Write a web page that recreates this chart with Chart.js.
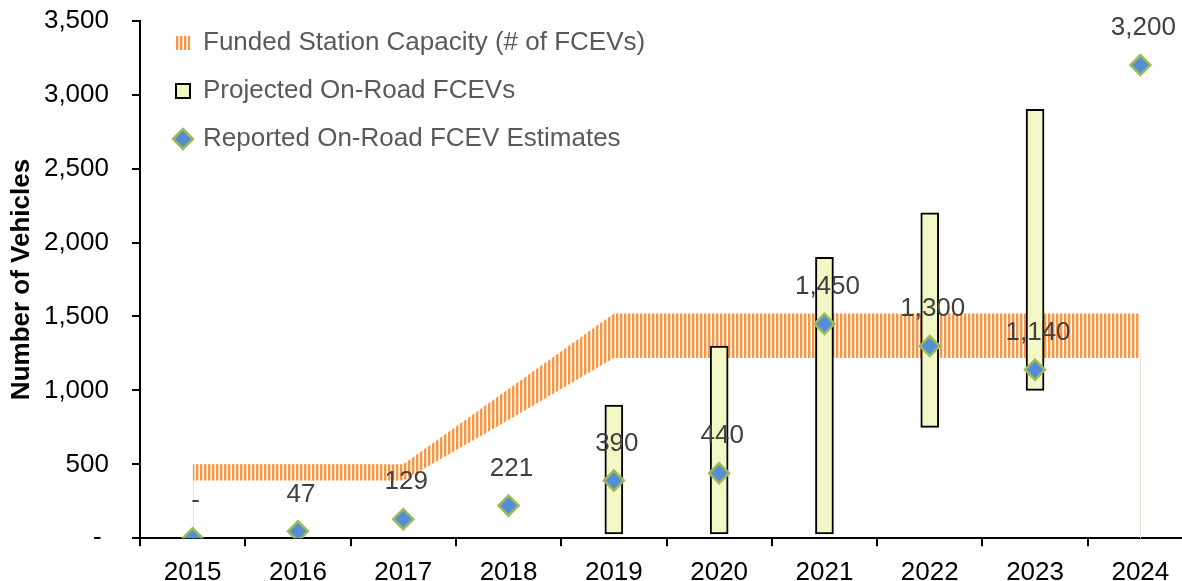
<!DOCTYPE html>
<html>
<head>
<meta charset="utf-8">
<script src="https://cdn.jsdelivr.net/npm/chart.js@4.4.1/dist/chart.umd.min.js"></script>
<style>
  html, body { margin: 0; padding: 0; background: #fff; overflow: hidden; }
  #chart { display: block; }
</style>
</head>
<body>
<canvas id="chart" width="1210" height="581"></canvas>
<script>
// values
const years = ['2015', '2016', '2017', '2018', '2019', '2020', '2021', '2022', '2023', '2024'];
const fundedLow = [390, 390, 390, 800, 1220, 1220, 1220, 1220, 1220, 1220];
const fundedHigh = [500, 500, 500, 1010, 1520, 1520, 1520, 1520, 1520, 1520];
const projected = [null, null, null, null, [30, 900], [30, 1300], [30, 1900], [750, 2200], [1000, 2900], null];
const reported = [0, 47, 129, 221, 390, 440, 1450, 1300, 1140, 3200];
const yMax = 3500;
const yStep = 500;

const FONT = '"Liberation Sans", Arial, sans-serif';
const ORANGE = '#F79646';
const EN_SPACE = '\u2002';

const fmt = v => v === 0 ? '-' : v.toLocaleString('en-US');

const canvas = document.getElementById('chart');

function stripes(color) {
    const c = document.createElement('canvas');
    c.width = 4;
    c.height = 4;
    const g = c.getContext('2d');
    g.fillStyle = color;
    g.fillRect(0, 0, 2.4, 4);
    return canvas.getContext('2d').createPattern(c, 'repeat');
}
const bandFill = stripes(ORANGE);

// thin pale edges of the band down to the axis (first / last year)
const bandEdges = {
    id: 'bandEdges',
    beforeDatasetsDraw(chart) {
        const pts = chart.getDatasetMeta(0).data;
        const bottom = chart.scales.y.bottom;
        const ctx = chart.ctx;
        ctx.save();
        ctx.strokeStyle = '#FBE2CF';
        ctx.lineWidth = 1;
        [pts[0], pts[pts.length - 1]].forEach(p => {
            ctx.beginPath();
            ctx.moveTo(Math.round(p.x) + 0.5, p.y);
            ctx.lineTo(Math.round(p.x) + 0.5, bottom);
            ctx.stroke();
        });
        ctx.restore();
    }
};

// value labels above the diamonds
const valueLabels = {
    id: 'valueLabels',
    afterDatasetsDraw(chart) {
        const meta = chart.getDatasetMeta(3);
        const ctx = chart.ctx;
        ctx.save();
        ctx.font = '26px ' + FONT;
        ctx.fillStyle = '#404040';
        ctx.textAlign = 'center';
        ctx.textBaseline = 'middle';
        meta.data.forEach((pt, i) => {
            ctx.fillText(fmt(reported[i]), pt.x + 3, pt.y - 37);
        });
        ctx.restore();
    }
};

// legend sits inside the plot, moved a little right and down
const legendNudge = {
    id: 'legendNudge',
    afterLayout(chart) {
        chart.legend.left += 14;
        chart.legend.top += 8;
    }
};

const data = {
    labels: years,
    datasets: [{
        type: 'line',
        label: '',
        data: fundedLow,
        borderWidth: 0,
        pointRadius: 0,
        fill: false,
        order: 4
    }, {
        type: 'line',
        label: 'Funded Station Capacity (# of FCEVs)',
        data: fundedHigh,
        borderWidth: 0,
        pointRadius: 0,
        backgroundColor: bandFill,
        fill: '-1',
        order: 3
    }, {
        type: 'bar',
        label: 'Projected On-Road FCEVs',
        data: projected,
        backgroundColor: '#F3F7C6',
        borderColor: '#000000',
        borderWidth: 2,
        borderSkipped: false,
        barThickness: 18,
        order: 2
    }, {
        type: 'line',
        label: 'Reported On-Road FCEV Estimates',
        data: reported,
        showLine: false,
        pointStyle: 'rectRot',
        pointRadius: 10,
        pointBackgroundColor: '#558ED5',
        pointBorderColor: '#9BBB59',
        pointBorderWidth: 2.5,
        order: 1
    }]
};

const legendStyles = [
    null,
    { fillStyle: bandFill, strokeStyle: ORANGE, lineWidth: 0, pointStyle: 'rect' },
    { fillStyle: '#F3F7C6', strokeStyle: '#000000', lineWidth: 2, pointStyle: 'rect' },
    { fillStyle: '#558ED5', strokeStyle: '#9BBB59', lineWidth: 2.5, pointStyle: 'rectRot' }
];

const config = {
    type: 'bar',
    data: data,
    options: {
        responsive: false,
        animation: false,
        layout: {
            // canvas is a bit wider than the window: the last category is cut at the edge
            padding: { top: 20.7, left: 2, right: 17, bottom: -18.5 }
        },
        plugins: {
            tooltip: { enabled: false },
            legend: {
                position: 'chartArea',
                align: 'start',
                labels: {
                    usePointStyle: true,
                    boxWidth: 14,
                    boxHeight: 14,
                    padding: 22,
                    color: '#595959',
                    font: { family: FONT, size: 26 },
                    generateLabels: chart => chart.data.datasets
                        .map((ds, i) => Object.assign({ text: ds.label, datasetIndex: i, fontColor: '#595959' }, legendStyles[i]))
                        .filter(item => item.text)
                }
            }
        },
        scales: {
            x: {
                offset: true,
                grid: {
                    offset: true,
                    drawOnChartArea: false,
                    tickLength: 8,
                    color: '#000000',
                    lineWidth: 2
                },
                border: { color: '#000000', width: 2 },
                ticks: {
                    color: '#000000',
                    padding: 11,
                    font: { family: FONT, size: 26 }
                }
            },
            y: {
                min: 0,
                max: yMax,
                afterFit: scale => { scale.width = 138; },
                grid: {
                    drawOnChartArea: false,
                    tickLength: 8,
                    color: '#000000',
                    lineWidth: 2
                },
                border: { color: '#000000', width: 2 },
                ticks: {
                    stepSize: yStep,
                    color: '#000000',
                    padding: 10,
                    font: { family: FONT, size: 26, lineHeight: 0.6 },
                    callback: v => (v === 0 ? '- ' : v.toLocaleString('en-US')) + EN_SPACE
                },
                title: {
                    display: true,
                    text: 'Number of Vehicles',
                    color: '#000000',
                    padding: { top: 4, bottom: 4 },
                    font: { family: FONT, size: 26, weight: 'bold' }
                }
            }
        }
    },
    plugins: [bandEdges, valueLabels, legendNudge]
};

new Chart(canvas, config);
</script>
</body>
</html>
